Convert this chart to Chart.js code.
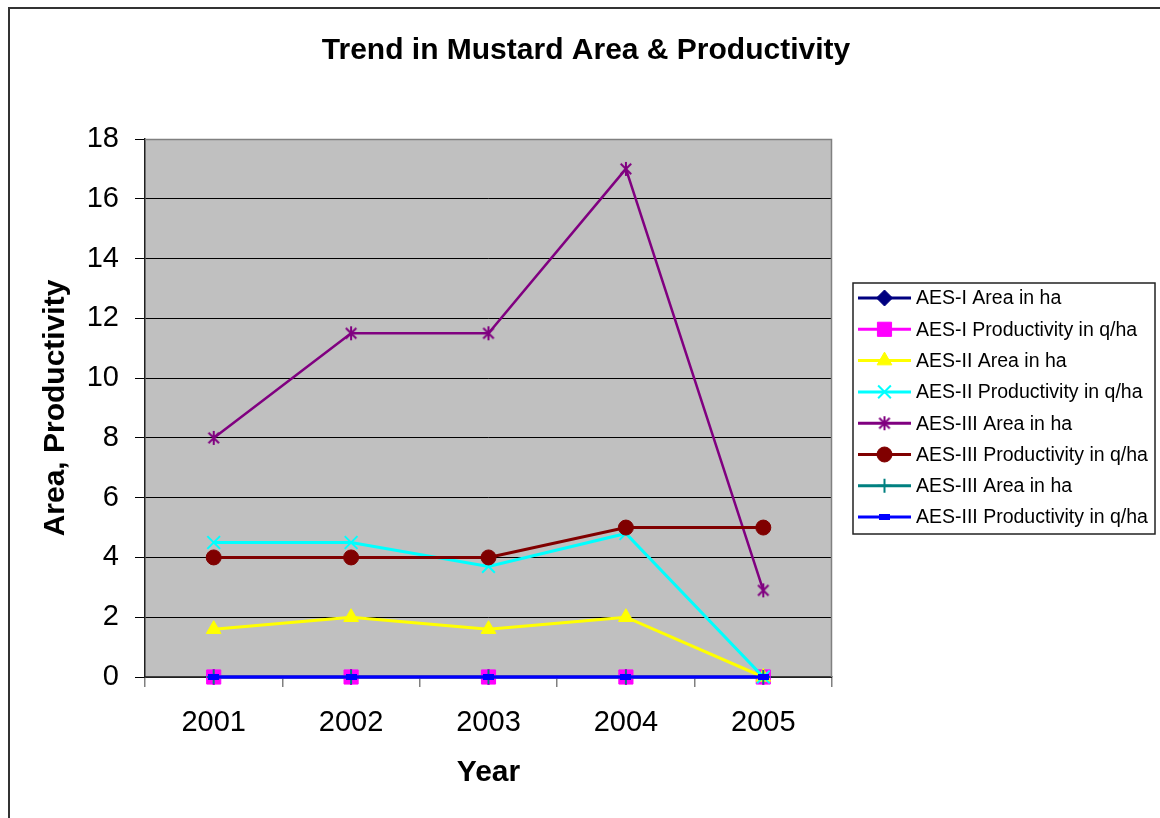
<!DOCTYPE html>
<html>
<head>
<meta charset="utf-8">
<title>Trend in Mustard Area &amp; Productivity</title>
<script src="https://cdn.jsdelivr.net/npm/chart.js@4.4.1/dist/chart.umd.min.js"></script>
<style>
  html, body { margin: 0; padding: 0; background: #fff; }
  #wrap { width: 1160px; height: 818px; }
</style>
</head>
<body>
<div id="wrap"><canvas id="chart" width="1160" height="818"></canvas></div>
<script>
// Mustard area (ha) and productivity (q/ha) per centre, by year
const years = ['2001', '2002', '2003', '2004', '2005'];
const aes1Area = [0, 0, 0, 0, 0];
const aes1Prod = [0, 0, 0, 0, 0];
const aes2Area = [1.6, 2, 1.6, 2, 0];
const aes2Prod = [4.5, 4.5, 3.7, 4.8, 0];
const aes3Area = [8, 11.5, 11.5, 17, 2.9];
const aes3Prod = [4, 4, 4, 5, 5];
const aes3AreaB = [0, 0, 0, 0, 0];
const aes3ProdB = [0, 0, 0, 0, 0];
const seriesNames = [
  'AES-I Area in ha', 'AES-I Productivity in q/ha',
  'AES-II Area in ha', 'AES-II Productivity in q/ha',
  'AES-III Area in ha', 'AES-III Productivity in q/ha',
  'AES-III Area in ha', 'AES-III Productivity in q/ha'
];
const yMin = 0, yMax = 18, yStep = 2;

const FONT = '"Liberation Sans", Arial, sans-serif';
Chart.defaults.font.family = FONT;
Chart.defaults.color = '#000';

// excel-style asterisk marker: an X with a vertical bar through it
function asteriskMarker(color, r) {
  const c = document.createElement('canvas');
  const s = 2 * r + 4;
  c.width = c.height = s;
  const g = c.getContext('2d');
  const m = s / 2, d = r * 0.75;
  g.strokeStyle = color;
  g.lineWidth = 2;
  g.beginPath();
  g.moveTo(m - d, m - d); g.lineTo(m + d, m + d);
  g.moveTo(m + d, m - d); g.lineTo(m - d, m + d);
  g.moveTo(m, m - r); g.lineTo(m, m + r);
  g.stroke();
  return c;
}

// short thick dash marker
function dashMarker(color, w, h) {
  const c = document.createElement('canvas');
  c.width = w; c.height = h;
  const g = c.getContext('2d');
  g.fillStyle = color;
  g.fillRect(0, 0, w, h);
  return c;
}

const styles = [
  { color: '#000080', pointStyle: 'rectRot', radius: 8, pw: 1 },
  { color: '#FF00FF', pointStyle: 'rect', radius: 10, pw: 1 },
  { color: '#FFFF00', pointStyle: 'triangle', radius: 8.5, pw: 1 },
  { color: '#00FFFF', pointStyle: 'crossRot', radius: 9, pw: 2 },
  { color: '#800080', pointStyle: asteriskMarker('#800080', 7), radius: 7, pw: 2 },
  { color: '#800000', pointStyle: 'circle', radius: 7.5, pw: 1 },
  { color: '#008080', pointStyle: 'cross', radius: 7, pw: 2 },
  { color: '#0000FF', pointStyle: dashMarker('#0000FF', 11, 6), radius: 5, pw: 1 }
];
const seriesData = [aes1Area, aes1Prod, aes2Area, aes2Prod, aes3Area, aes3Prod, aes3AreaB, aes3ProdB];

const datasets = seriesData.map((data, i) => ({
  label: seriesNames[i],
  data: data,
  borderColor: styles[i].color,
  backgroundColor: styles[i].color,
  borderWidth: i === 4 ? 2.5 : 3,
  pointStyle: styles[i].pointStyle,
  pointRadius: styles[i].radius,
  pointHoverRadius: styles[i].radius,
  pointBorderWidth: styles[i].pw,
  pointBackgroundColor: styles[i].color,
  pointBorderColor: styles[i].color,
  tension: 0,
  clip: false,
  order: -i // later series sit on top
}));

const plotBox = {
  id: 'plotBox',
  beforeDraw(chart) {
    const { ctx, chartArea: a } = chart;
    ctx.save();
    // outer chart frame
    ctx.strokeStyle = '#333';
    ctx.lineWidth = 2;
    ctx.strokeRect(9, 8, 1300, 1000);
    // grey plot area
    ctx.fillStyle = '#C0C0C0';
    ctx.fillRect(a.left, a.top, a.right - a.left, a.bottom - a.top);
    // title
    ctx.fillStyle = '#000';
    ctx.font = 'bold 30px ' + FONT;
    ctx.textAlign = 'center';
    ctx.textBaseline = 'middle';
    ctx.fillText('Trend in Mustard Area & Productivity', 586, 51);
    ctx.restore();
  },
  beforeDatasetsDraw(chart) {
    const { ctx, chartArea: a } = chart;
    ctx.save();
    ctx.strokeStyle = '#808080';
    ctx.lineWidth = 1.5;
    ctx.beginPath();
    ctx.moveTo(a.left, a.top + 0.5);
    ctx.lineTo(a.right - 0.5, a.top + 0.5);
    ctx.lineTo(a.right - 0.5, a.bottom);
    ctx.stroke();
    ctx.restore();
  }
};

// boxed legend to the right of the plot: line sample with marker in the middle
const sideLegend = {
  id: 'sideLegend',
  afterDraw(chart) {
    const { ctx } = chart;
    const box = { x: 853, y: 283, w: 302, h: 251 };
    ctx.save();
    ctx.fillStyle = '#fff';
    ctx.fillRect(box.x, box.y, box.w, box.h);
    ctx.strokeStyle = '#222';
    ctx.lineWidth = 1.5;
    ctx.strokeRect(box.x, box.y, box.w, box.h);
    ctx.font = '19.5px ' + FONT;
    ctx.textBaseline = 'middle';
    ctx.textAlign = 'left';
    chart.data.datasets.forEach((ds, i) => {
      const y = 298 + i * 31.3;
      ctx.strokeStyle = ds.borderColor;
      ctx.lineWidth = 3;
      ctx.beginPath();
      ctx.moveTo(858, y);
      ctx.lineTo(911, y);
      ctx.stroke();
      ctx.fillStyle = ds.pointBackgroundColor;
      ctx.strokeStyle = ds.pointBorderColor;
      ctx.lineWidth = ds.pointBorderWidth;
      Chart.helpers.drawPoint(ctx, {
        pointStyle: ds.pointStyle,
        radius: ds.pointRadius,
        rotation: 0,
        borderWidth: ds.pointBorderWidth
      }, 884.5, y);
      ctx.fillStyle = '#000';
      ctx.fillText(ds.label, 916, y + 1);
    });
    ctx.restore();
  }
};

new Chart(document.getElementById('chart'), {
  type: 'line',
  data: { labels: years, datasets: datasets },
  options: {
    responsive: false,
    animation: false,
    events: [],
    layout: { padding: { top: 139, right: 328, bottom: 0, left: 0 } },
    plugins: {
      legend: { display: false },
      title: { display: false },
      tooltip: { enabled: false }
    },
    scales: {
      x: {
        type: 'category',
        offset: true,
        afterFit(scale) { scale.height = 141; },
        grid: {
          offset: true,
          drawOnChartArea: false,
          drawTicks: true,
          tickLength: 10,
          color: '#808080',
          lineWidth: 1.5
        },
        border: { color: '#404040', width: 1.5 },
        ticks: {
          color: '#000',
          font: { size: 29 },
          padding: 19,
          maxRotation: 0
        },
        title: {
          display: true,
          text: 'Year',
          color: '#000',
          font: { size: 30, weight: 'bold' },
          padding: { top: 0, bottom: 27 }
        }
      },
      y: {
        min: yMin,
        max: yMax,
        afterFit(scale) { scale.width = 145; },
        grid: {
          color: '#000',
          lineWidth: 1,
          drawTicks: true,
          tickLength: 10
        },
        border: { color: '#202020', width: 1.5 },
        ticks: {
          stepSize: yStep,
          color: '#000',
          font: { size: 29 },
          padding: 16
        },
        title: {
          display: true,
          text: 'Area, Productivity',
          color: '#000',
          font: { size: 30, weight: 'bold' },
          padding: { top: 38, bottom: 0 }
        }
      }
    }
  },
  plugins: [plotBox, sideLegend]
});
</script>
</body>
</html>
